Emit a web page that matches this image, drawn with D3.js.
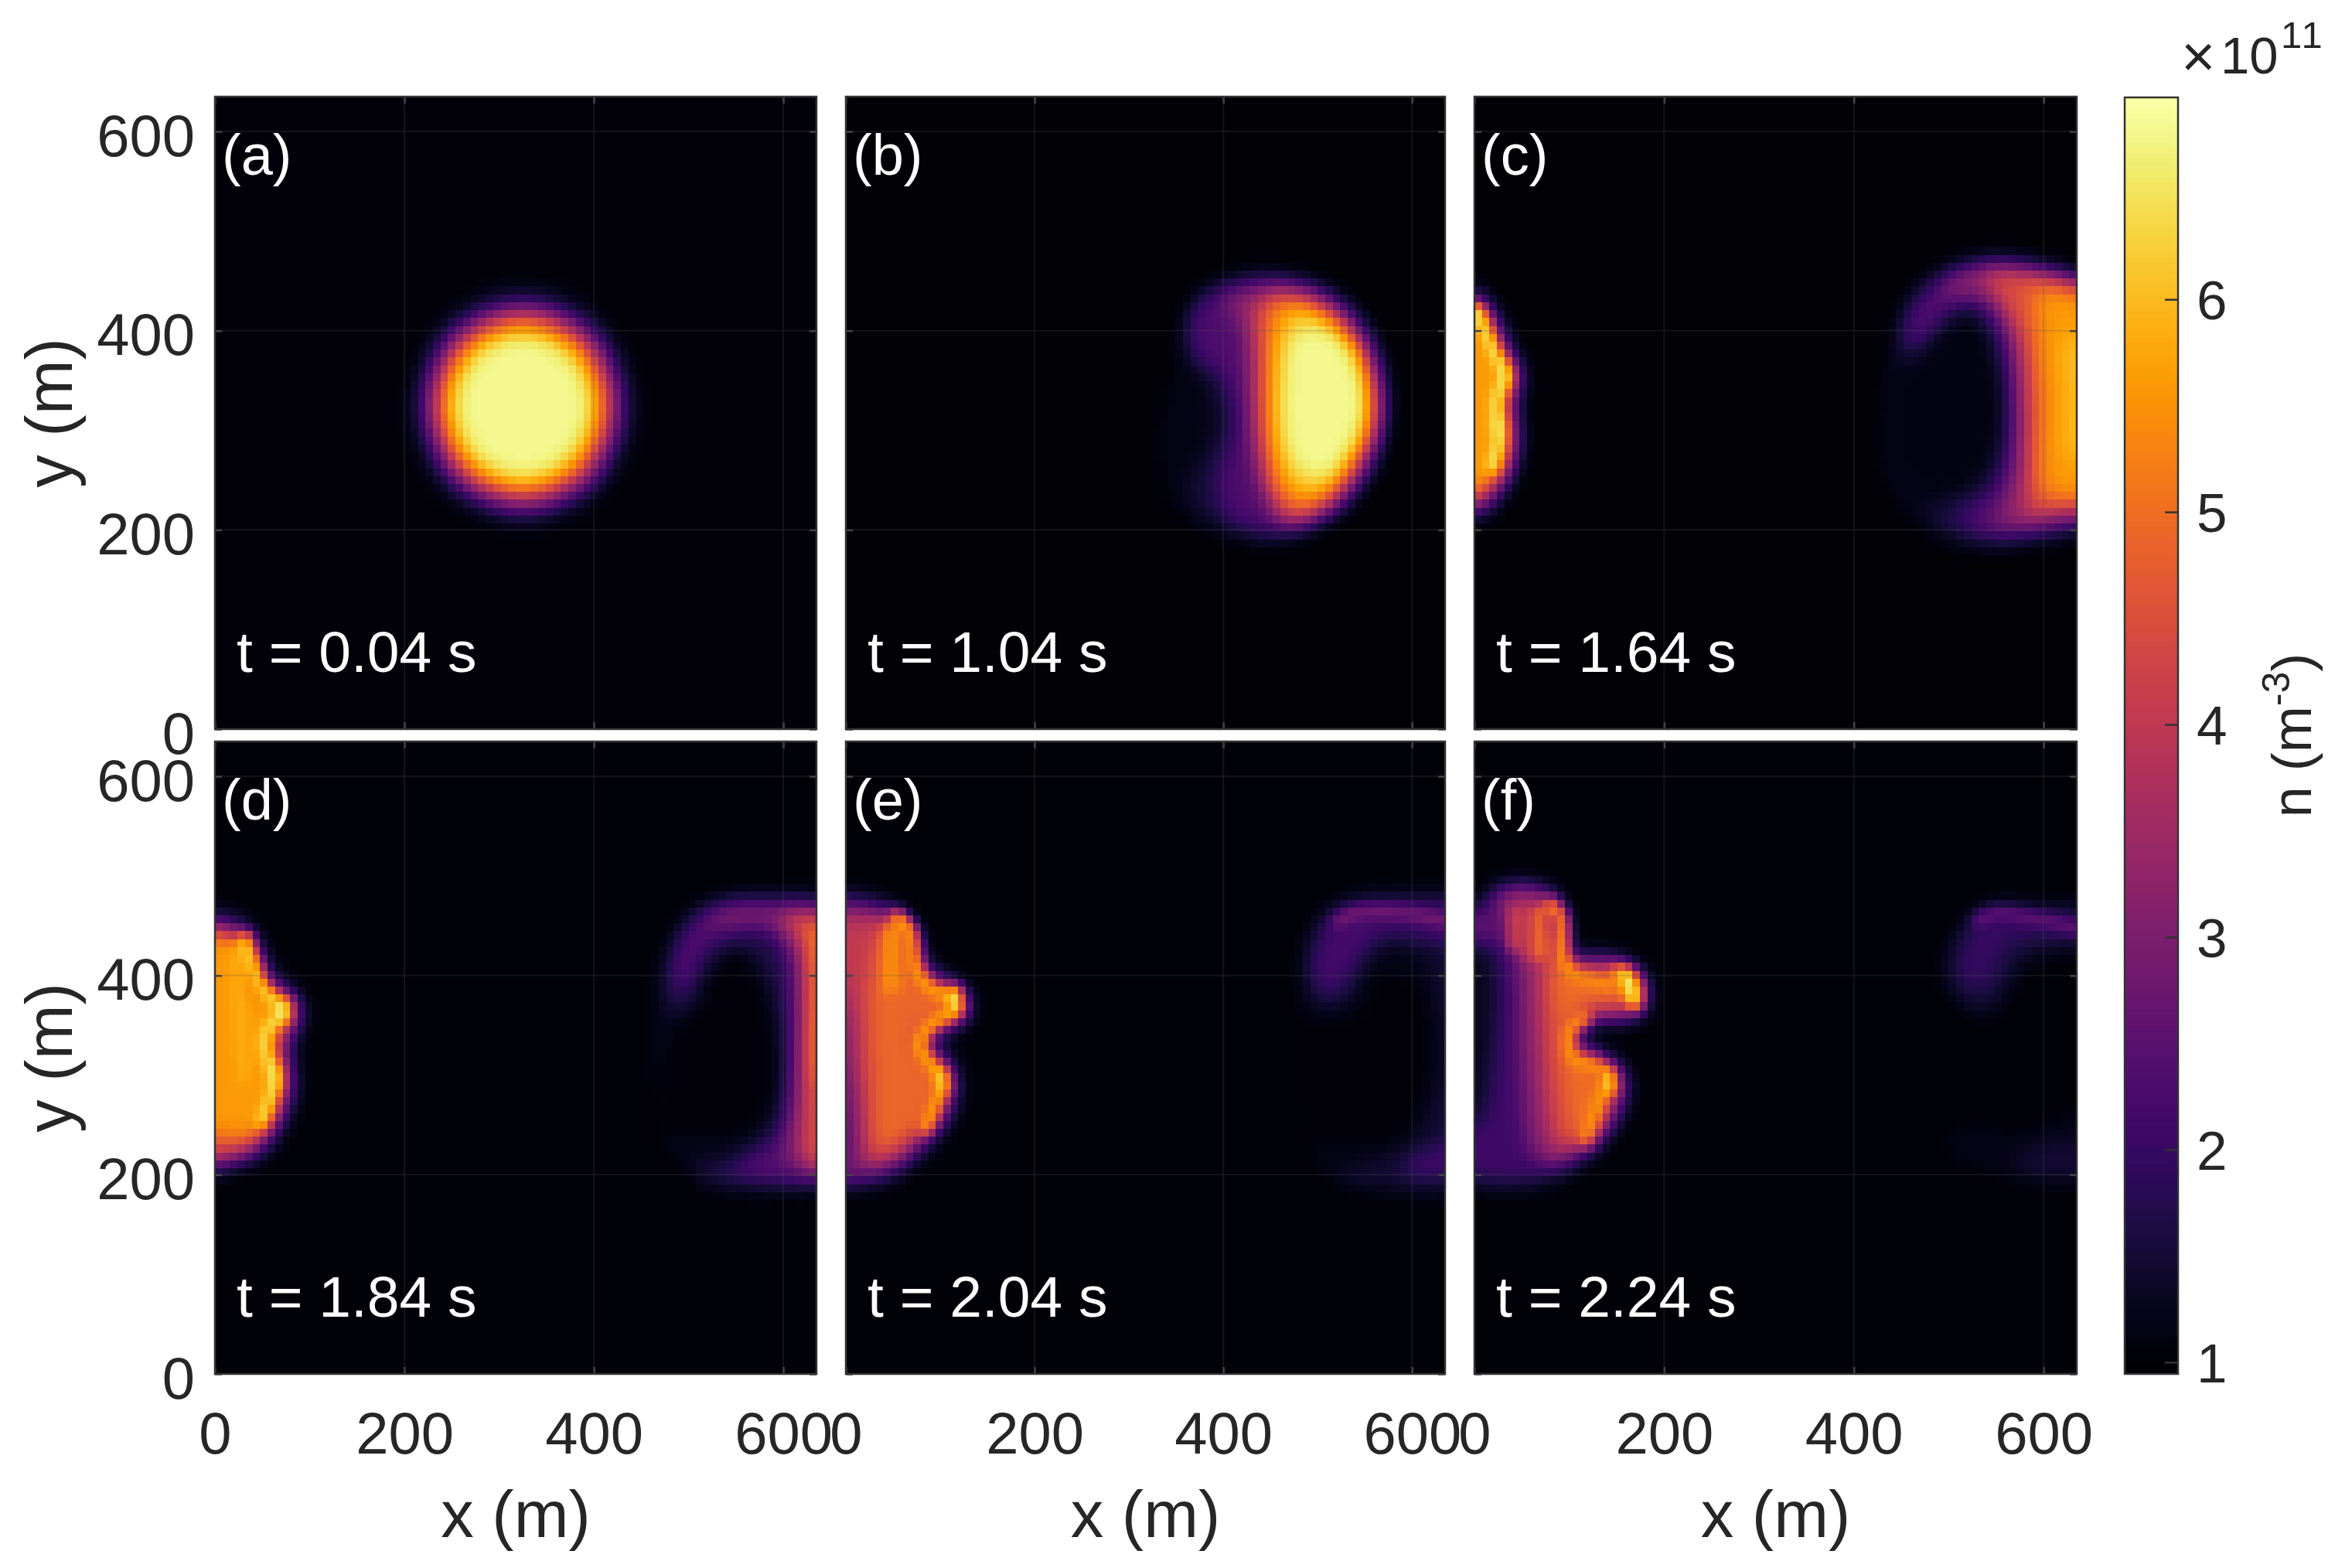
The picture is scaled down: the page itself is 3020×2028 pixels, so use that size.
<!DOCTYPE html>
<html>
<head>
<meta charset="utf-8">
<script src="https://cdn.jsdelivr.net/npm/d3@7"></script>
<style>
html,body{margin:0;padding:0;background:#fff;}
#chart{position:relative;width:3020px;height:2028px;overflow:hidden;}
#chart canvas{position:absolute;image-rendering:pixelated;z-index:1;}
#chart svg{position:absolute;left:0;top:0;z-index:2;}
text{font-family:"Liberation Sans",Arial,sans-serif;}
</style>
</head>
<body>
<div id="chart"></div>
<script>
// density read off the picture as iso-contours [n, [[x,y],...]] in metres, n in 1e11 m^-3
// painted low to high, then the thin bright ridges on top
const panelLetters = ['(a)','(b)','(c)','(d)','(e)','(f)'];
const panelTimes = ['t = 0.04 s','t = 1.04 s','t = 1.64 s','t = 1.84 s','t = 2.04 s','t = 2.24 s'];
const axisTicks = [0,200,400,600];
const colorTicks = [1,2,3,4,5,6];
const colorDomain = [0.945,6.95];
const background = [1.03,1,1,1.02,1.02,1.02];

const contoursA = [
[1.25,[[447,324],[411,410],[325,446],[239,410],[203,324],[239,238],[325,202],[411,238]]],
[2.2,[[435,324],[403,402],[325,434],[247,402],[215,324],[247,246],[325,214],[403,246]]],
[3.4,[[425,324],[396,395],[325,424],[254,395],[225,324],[254,253],[325,224],[396,253]]],
[4.6,[[417,324],[390,389],[325,416],[260,389],[233,324],[260,259],[325,232],[390,259]]],
[5.6,[[409,324],[384,383],[325,408],[266,383],[241,324],[266,265],[325,240],[384,265]]],
[6.2,[[403,324],[380,379],[325,402],[270,379],[247,324],[270,269],[325,246],[380,269]]],
[6.8,[[395,324],[374,373],[325,394],[276,373],[255,324],[276,275],[325,254],[374,275]]]
];
const ridgesA = [];

const contoursB = [
[1.15,[[580,324],[547,422],[455,462],[368,432],[350,371],[330,300],[345,222],[395,196],[460,186],[542,228]]],
[1.5,[[575,324],[542,418],[455,456],[368,430],[358,378],[382,350],[390,300],[360,235],[392,202],[462,192],[538,232]]],
[2.3,[[572,324],[540,415],[455,452],[372,428],[368,380],[398,352],[412,307],[392,245],[408,210],[465,197],[535,235]]],
[3.2,[[567,328],[552,384],[518,426],[484,443],[454,446],[402,431],[418,405],[426,350],[431,286],[440,243],[463,205],[501,213],[540,243],[561,286]]],
[4.5,[[561,328],[548,384],[514,422],[480,437],[437,431],[434,371],[436,286],[450,230],[471,209],[501,217],[535,252],[557,290]]],
[5.5,[[559,328],[544,384],[510,418],[480,431],[454,426],[446,371],[448,286],[459,239],[484,222],[514,235],[540,269],[555,294]]],
[6.2,[[557,328],[541,382],[506,412],[478,421],[460,397],[454,350],[456,286],[470,250],[493,237],[520,250],[541,286],[554,307]]],
[6.8,[[553,328],[538,378],[505,405],[473,395],[463,350],[463,298],[478,262],[503,252],[530,268],[548,303]]]
];
const ridgesB = [];

const contoursC = [
[1.35,[[-30,450],[0,448],[24,422],[41,388],[54,356],[49,328],[52,290],[43,254],[18,218],[0,208],[-30,200]]],
[2.2,[[-30,445],[0,443],[20,418],[37,384],[50,354],[45,328],[48,290],[39,256],[16,222],[0,213],[-30,205]]],
[4,[[-30,433],[0,433],[16,414],[31,380],[45,354],[37,328],[41,290],[33,256],[12,230],[0,222],[-30,222]]],
[5.6,[[-30,425],[0,425],[12,408],[26,380],[41,354],[32,328],[37,290],[28,256],[8,237],[0,230],[-30,230]]],
[1.25,[[640,448],[593,470],[546,477],[490,462],[455,432],[440,392],[428,320],[430,264],[460,212],[500,188],[546,179],[600,188],[640,205]]],
[1.1,[[473,371],[508,409],[537,405],[554,350],[545,281],[525,252],[486,238],[452,258],[440,307],[452,358]]],
[1.7,[[640,445],[593,465],[546,469],[496,460],[460,431],[448,401],[448,375],[465,375],[482,397],[508,418],[533,414],[550,375],[559,328],[554,273],[533,243],[499,226],[482,217],[499,196],[546,188],[593,192],[640,209]]],
[2.4,[[640,443],[593,462],[546,465],[498,455],[465,428],[455,400],[458,385],[470,388],[488,408],[510,428],[535,426],[555,385],[565,328],[560,273],[543,235],[515,215],[525,200],[546,193],[593,197],[640,212]]],
[3.3,[[499,449],[528,465],[571,465],[614,454],[640,445],[640,215],[614,209],[571,202],[548,203],[555,222],[570,264],[572,328],[568,384],[552,422],[525,437],[499,433]]],
[4.4,[[540,460],[593,459],[640,441],[640,225],[610,218],[584,213],[582,264],[580,328],[573,392],[550,433]]],
[5,[[584,445],[614,445],[640,434],[640,232],[605,226],[590,239],[591,328],[585,392]]],
[5.6,[[599,437],[640,427],[640,238],[614,235],[602,252],[602,328],[598,392]]],
[6.05,[[623,392],[640,392],[640,280],[625,273],[623,328]]]
];
const ridgesC = [
[6.8,[[4,420],[12,402],[22,378],[34,354],[24,330],[28,298],[20,262]]],
[6.95,[[33,360],[33,350]]],
[6.9,[[24,310],[26,298]]]
];

const contoursD = [
[1.5,[[-30,468],[0,468],[28,460],[49,438],[66,400],[92,378],[96,353],[83,332],[90,293],[79,259],[53,221],[19,204],[0,197],[-30,195]]],
[3,[[-30,455],[0,455],[24,448],[42,430],[58,395],[84,378],[88,355],[76,332],[80,293],[70,258],[48,225],[20,213],[0,207],[-30,205]]],
[4.6,[[-30,445],[0,445],[24,440],[38,425],[52,390],[76,378],[82,355],[68,332],[74,293],[64,258],[42,230],[18,220],[0,216],[-30,216]]],
[5.6,[[-30,438],[20,438],[34,420],[48,385],[70,375],[76,355],[60,332],[68,293],[58,258],[36,235],[12,240],[-30,258]]],
[1.25,[[640,478],[590,483],[540,480],[500,462],[475,425],[465,385],[462,330],[465,270],[480,225],[515,195],[560,183],[600,185],[640,190]]],
[1.05,[[519,417],[558,430],[579,404],[592,345],[592,276],[570,246],[519,234],[476,246],[472,302],[494,362],[515,379]]],
[1.7,[[640,470],[590,477],[545,476],[510,465],[490,445],[478,415],[474,385],[480,365],[500,365],[512,390],[525,415],[545,425],[565,425],[580,400],[595,350],[598,280],[580,240],[545,215],[505,205],[525,190],[560,190],[600,190],[640,195]]],
[2.4,[[640,466],[590,473],[545,472],[512,460],[494,440],[484,412],[484,390],[496,385],[508,410],[525,435],[550,445],[585,445],[605,420],[605,280],[595,240],[555,212],[540,205],[570,195],[640,198]]],
[3.2,[[640,463],[595,470],[545,470],[515,458],[535,450],[580,452],[605,430],[613,350],[613,280],[605,215],[640,205]]],
[4.5,[[640,455],[610,462],[600,455],[620,430],[620,280],[625,210],[640,205]]],
[5.3,[[640,450],[628,445],[626,400],[630,300],[640,280]]]
];
const ridgesD = [
[6.6,[[32,438],[40,415],[49,391],[62,376],[73,366],[60,350],[53,336],[57,316],[64,298],[58,272],[49,251]]],
[5.9,[[24,430],[26,380],[30,300]]],
[6.95,[[74,372],[74,358]]],
[6.85,[[63,308],[65,290]]]
];

const contoursE = [
[1.5,[[-30,481],[27,481],[53,472],[78,443],[87,413],[112,400],[134,379],[136,366],[121,345],[96,338],[121,306],[123,289],[112,255],[87,225],[48,195],[0,185],[-30,185]]],
[3,[[-30,470],[27,470],[50,462],[72,438],[82,410],[105,395],[128,378],[130,366],[115,350],[100,345],[88,338],[112,306],[116,289],[106,257],[84,232],[48,203],[12,195],[-30,195]]],
[2.4,[[-30,410],[0,410],[3,300],[8,215],[-30,200]]],
[4,[[4,460],[27,462],[48,455],[68,430],[78,405],[100,392],[122,375],[125,366],[110,352],[90,345],[80,338],[104,306],[108,289],[98,260],[78,237],[45,213],[20,210],[12,280],[4,350]]],
[4.9,[[25,400],[40,448],[60,428],[72,402],[95,388],[118,372],[118,366],[105,355],[85,350],[70,338],[95,306],[102,289],[92,262],[72,240],[45,222],[32,222],[25,300]]],
[1.2,[[640,480],[590,483],[540,480],[505,465],[488,430],[482,385],[478,330],[480,260],[495,215],[530,190],[580,180],[640,180]]],
[1.03,[[545,365],[560,405],[585,405],[605,395],[618,350],[615,290],[600,250],[550,225],[490,235],[470,290],[475,350],[505,360]]],
[1.6,[[640,476],[590,479],[550,479],[518,468],[496,446],[486,412],[490,380],[508,368],[530,375],[548,408],[566,432],[590,432],[640,425]]],
[2.2,[[640,470],[590,473],[550,473],[522,463],[504,444],[495,415],[500,390],[515,382],[530,395],[545,420],[565,440],[585,444],[640,436]]],
[1.5,[[640,420],[624,420],[630,350],[627,280],[612,250],[640,240]]],
[1.5,[[640,245],[610,235],[570,215],[530,205],[520,195],[560,190],[640,195]]],
[2.1,[[640,235],[615,225],[590,208],[600,197],[640,200]]]
];
const ridgesE = [
[6,[[53,460],[68,447],[76,404],[91,387],[117,377],[119,366],[95,353],[78,332],[95,306],[104,293],[95,268],[85,246]]],
[5.6,[[46,447],[46,387]]],
[5.3,[[55,445],[55,390]]],
[6.95,[[116,385],[116,369]]],
[6.7,[[101,304],[103,288]]],
[3,[[520,455],[544,464],[587,464],[640,453]]]
];

const contoursF = [
[1.5,[[-30,465],[0,460],[7,477],[20,488],[46,496],[84,485],[99,460],[106,426],[148,421],[174,404],[185,383],[178,362],[157,353],[118,353],[110,332],[153,315],[166,293],[153,251],[123,217],[80,191],[20,185],[0,191],[-30,190]]],
[1.25,[[-30,430],[10,430],[20,400],[15,300],[5,260],[-30,240]]],
[2.1,[[-30,462],[12,470],[40,482],[80,478],[95,455],[102,420],[150,418],[176,402],[184,383],[176,360],[150,354],[120,354],[108,335],[140,318],[158,306],[162,289],[150,255],[120,222],[80,200],[30,195],[-30,205],[-30,240],[5,250],[18,300],[25,400],[15,430],[-30,440]]],
[3.2,[[35,475],[60,478],[82,465],[92,448],[98,415],[150,414],[174,402],[180,383],[172,362],[150,357],[118,358],[104,335],[135,316],[152,303],[156,289],[145,258],[118,228],[85,210],[62,220],[50,300],[45,400],[38,445]]],
[4.4,[[72,455],[88,440],[94,415],[145,410],[168,398],[172,380],[155,364],[122,362],[100,335],[128,318],[145,300],[150,289],[138,260],[112,232],[88,225],[78,260],[68,400]]],
[5,[[80,400],[92,412],[130,402],[165,395],[160,372],[115,366],[96,335],[122,315],[142,298],[143,270],[128,240],[108,232],[95,290],[85,380]]],
[3.9,[[20,478],[45,488],[70,485],[88,470],[80,462],[60,472],[40,472],[22,468]]],
[2.6,[[-30,458],[10,462],[30,458],[30,440],[-30,440]]],
[1.5,[[640,466],[590,472],[550,474],[525,462],[502,430],[496,400],[512,372],[540,362],[560,380],[575,410],[610,425],[640,430]]],
[2,[[530,455],[512,425],[512,400],[530,385],[545,395],[560,430],[600,440],[640,440],[640,455],[590,460],[550,462]]],
[1.2,[[497,235],[520,210],[560,198],[640,195],[640,265],[620,260],[570,240],[530,250]]],
[1.5,[[580,222],[640,230],[640,200],[570,205]]]
];
const ridgesF = [
[5.8,[[80,472],[91,460],[95,413],[106,402]]],
[5.2,[[69,464],[69,421]]],
[4.4,[[41,464],[41,430]]],
[4.2,[[56,466],[56,420]]],
[5.5,[[114,400],[144,391]]],
[5.8,[[118,357],[101,345],[103,319],[131,310]]],
[5.7,[[140,293],[127,259],[118,234]]],
[5.9,[[150,405],[163,402],[172,385],[170,370]]],
[6.95,[[159,402],[167,375]]],
[6.7,[[142,304],[144,286]]],
[2.7,[[530,455],[550,463],[590,458],[640,446]]]
];

const allContours = [contoursA,contoursB,contoursC,contoursD,contoursE,contoursF];
const allRidges = [ridgesA,ridgesB,ridgesC,ridgesD,ridgesE,ridgesF];

const W = 3020, H = 2028;
const colLeft = [278,1094,1907], colWidth = [778,775,779], rowTop = [125,959];
const panelH = 818;
const domainMax = 635;
const ink = '#262626';
const cells = 80, raster = 160;

const chart = d3.select('#chart');
const svg = chart.append('svg').attr('width',W).attr('height',H);
const color = d3.scaleSequential(d3.interpolateInferno).domain(colorDomain);

// raster the contours to a value field, blur it, add ridges, colour the cells
function drawField(i,left,top,panelW){
  const rx = d3.scaleLinear().domain([0,domainMax]).range([0,raster]);
  const ry = d3.scaleLinear().domain([0,domainMax]).range([raster,0]);
  const gray = d3.scaleLinear().domain(colorDomain).range([0,255]);
  const off = document.createElement('canvas');
  off.width = raster; off.height = raster;
  const ctx = off.getContext('2d',{willReadFrequently:true});
  const fillOf = v=>{const g=Math.round(gray(v));return `rgb(${g},${g},${g})`};
  ctx.fillStyle = fillOf(background[i]);
  ctx.fillRect(0,0,raster,raster);
  const ring = d3.line().x(d=>rx(d[0])).y(d=>ry(d[1])).curve(d3.curveCatmullRomClosed.alpha(0.5)).context(ctx);
  allContours[i].forEach(c=>{
    ctx.beginPath(); ring(c[1]); ctx.closePath();
    ctx.fillStyle = fillOf(c[0]); ctx.fill();
  });
  // first blur for the body of the plasma
  const first = ctx.getImageData(0,0,raster,raster);
  const body = new Float32Array(raster*raster);
  for(let k=0;k<body.length;k++) body[k] = first.data[k*4];
  d3.blur2({data:body,width:raster,height:raster},1.5);
  for(let k=0;k<body.length;k++){
    first.data[k*4]=first.data[k*4+1]=first.data[k*4+2]=Math.round(body[k]);
  }
  ctx.putImageData(first,0,0);

  const open = d3.line().x(d=>rx(d[0])).y(d=>ry(d[1])).curve(d3.curveCatmullRom.alpha(0.5)).context(ctx);
  ctx.lineCap = 'round'; ctx.lineJoin = 'round'; ctx.lineWidth = 3;
  allRidges[i].forEach(c=>{
    ctx.beginPath(); open(c[1]);
    ctx.strokeStyle = fillOf(c[0]); ctx.stroke();
  });
  const src = ctx.getImageData(0,0,raster,raster).data;
  const vals = new Float32Array(raster*raster);
  for(let k=0;k<vals.length;k++) vals[k] = src[k*4];
  d3.blur2({data:vals,width:raster,height:raster},0.5);

  const cv = chart.append('canvas').attr('width',cells).attr('height',cells)
    .style('left',left+'px').style('top',top+'px')
    .style('width',panelW+'px').style('height',panelH+'px').node();
  const c2 = cv.getContext('2d');
  const img = c2.createImageData(cells,cells);
  const step = raster/cells;
  for(let y=0;y<cells;y++){
    for(let x=0;x<cells;x++){
      let s = 0;
      for(let a=0;a<step;a++) for(let b=0;b<step;b++) s += vals[(y*step+a)*raster+x*step+b];
      const col = d3.rgb(color(gray.invert(s/(step*step))));
      const o = (y*cells+x)*4;
      img.data[o]=col.r; img.data[o+1]=col.g; img.data[o+2]=col.b; img.data[o+3]=255;
    }
  }
  c2.putImageData(img,0,0);
}

panelLetters.forEach((letter,i)=>{
  const col = i%3, row = Math.floor(i/3);
  const left = colLeft[col], top = rowTop[row], panelW = colWidth[col];
  const x = d3.scaleLinear().domain([0,domainMax]).range([0,panelW]);
  const y = d3.scaleLinear().domain([0,domainMax]).range([panelH,0]);
  drawField(i,left,top,panelW);

  const g = svg.append('g').attr('transform',`translate(${left},${top})`);
  // faint grid
  const gridVals = axisTicks.slice(1);
  g.selectAll('.gx').data(gridVals).enter().append('line').attr('class','gx')
    .attr('x1',d=>x(d)).attr('x2',d=>x(d)).attr('y1',0).attr('y2',panelH)
    .attr('stroke','#555').attr('stroke-opacity',0.22).attr('stroke-width',2);
  g.selectAll('.gy').data(gridVals).enter().append('line').attr('class','gy')
    .attr('y1',d=>y(d)).attr('y2',d=>y(d)).attr('x1',0).attr('x2',panelW)
    .attr('stroke','#555').attr('stroke-opacity',0.22).attr('stroke-width',2);

  // inward ticks on all four sides, labels only on the outer edges
  const tickFmt = d3.format('d');
  const xAxis = d3.axisBottom(x).tickValues(axisTicks).tickSize(-9).tickPadding(46)
    .tickFormat(row===1?tickFmt:'');
  const yAxis = d3.axisLeft(y).tickValues(axisTicks).tickSize(-9).tickPadding(26)
    .tickFormat(col===0?tickFmt:'');
  const ax = g.append('g').attr('transform',`translate(0,${panelH})`).call(xAxis);
  const ay = g.append('g').call(yAxis);
  g.append('g').call(d3.axisTop(x).tickValues(axisTicks).tickSize(-9).tickFormat(''));
  g.append('g').attr('transform',`translate(${panelW},0)`).call(d3.axisRight(y).tickValues(axisTicks).tickSize(-9).tickFormat(''));
  g.selectAll('.domain').attr('stroke','none');
  g.selectAll('.tick line').attr('stroke','#444').attr('stroke-width',2.5);
  ax.selectAll('text').attr('font-size',76).attr('fill',ink).attr('font-family','"Liberation Sans",Arial,sans-serif').attr('dy',0).attr('y',103);
  ay.selectAll('text').attr('font-size',76).attr('fill',ink).attr('font-family','"Liberation Sans",Arial,sans-serif').attr('dy','0.41em');

  g.append('rect').attr('width',panelW).attr('height',panelH)
    .attr('fill','none').attr('stroke','#333').attr('stroke-width',2.5);

  g.append('text').attr('x',9).attr('y',101).attr('fill','#fff').attr('font-size',74).text(letter);
  g.append('text').attr('x',28).attr('y',panelH-74).attr('fill','#fff').attr('font-size',75).text(panelTimes[i]);

  if(row===1){
    g.append('text').attr('x',panelW/2).attr('y',1988-top).attr('text-anchor','middle')
      .attr('fill',ink).attr('font-size',85).text('x (m)');
  }
  if(col===0){
    g.append('text').attr('transform',`translate(${93-left},${panelH/2}) rotate(-90)`)
      .attr('text-anchor','middle').attr('fill',ink).attr('font-size',85).text('y (m)');
  }
});

// colorbar
const cbLeft = 2748, cbW = 69, cbTop = 126, cbH = 1651;
const cy = d3.scaleLinear().domain(colorDomain).range([cbTop+cbH,cbTop]);
const cb = svg.append('g');
cb.selectAll('rect').data(d3.range(0,256)).enter().append('rect')
  .attr('x',cbLeft).attr('width',cbW)
  .attr('y',d=>cy(colorDomain[0]+(d+1)/256*(colorDomain[1]-colorDomain[0])))
  .attr('height',cbH/256+1)
  .attr('fill',d=>color(colorDomain[0]+(d+0.5)/256*(colorDomain[1]-colorDomain[0])));
const cbAxis = svg.append('g').attr('transform',`translate(${cbLeft+cbW},0)`)
  .call(d3.axisRight(cy).tickValues(colorTicks).tickSize(-17).tickPadding(24).tickFormat(d3.format('d')));
cbAxis.select('.domain').attr('stroke','none');
cbAxis.selectAll('.tick line').attr('stroke','#333').attr('stroke-width',2.5);
cbAxis.selectAll('text').attr('font-size',71).attr('fill',ink).attr('font-family','"Liberation Sans",Arial,sans-serif').attr('dy','0.36em');
svg.append('rect').attr('x',cbLeft).attr('y',cbTop).attr('width',cbW).attr('height',cbH)
  .attr('fill','none').attr('stroke','#333').attr('stroke-width',2.5);

// exponent and colorbar label
svg.append('text').attr('x',2821).attr('y',99).attr('fill',ink).attr('font-size',76).text('\u00d7');
svg.append('text').attr('x',2872).attr('y',95).attr('fill',ink).attr('font-size',67).text('10');
svg.append('text').attr('x',2950).attr('y',62).attr('fill',ink).attr('font-size',49).attr('letter-spacing',3).text('11');
const nLabel = svg.append('text').attr('transform','translate(2989,951) rotate(-90)')
  .attr('text-anchor','middle').attr('fill',ink).attr('font-size',72);
nLabel.append('tspan').text('n (m');
nLabel.append('tspan').attr('dy',-28).attr('font-size',50).text('-3');
nLabel.append('tspan').attr('dy',28).text(')');
</script>
</body>
</html>
